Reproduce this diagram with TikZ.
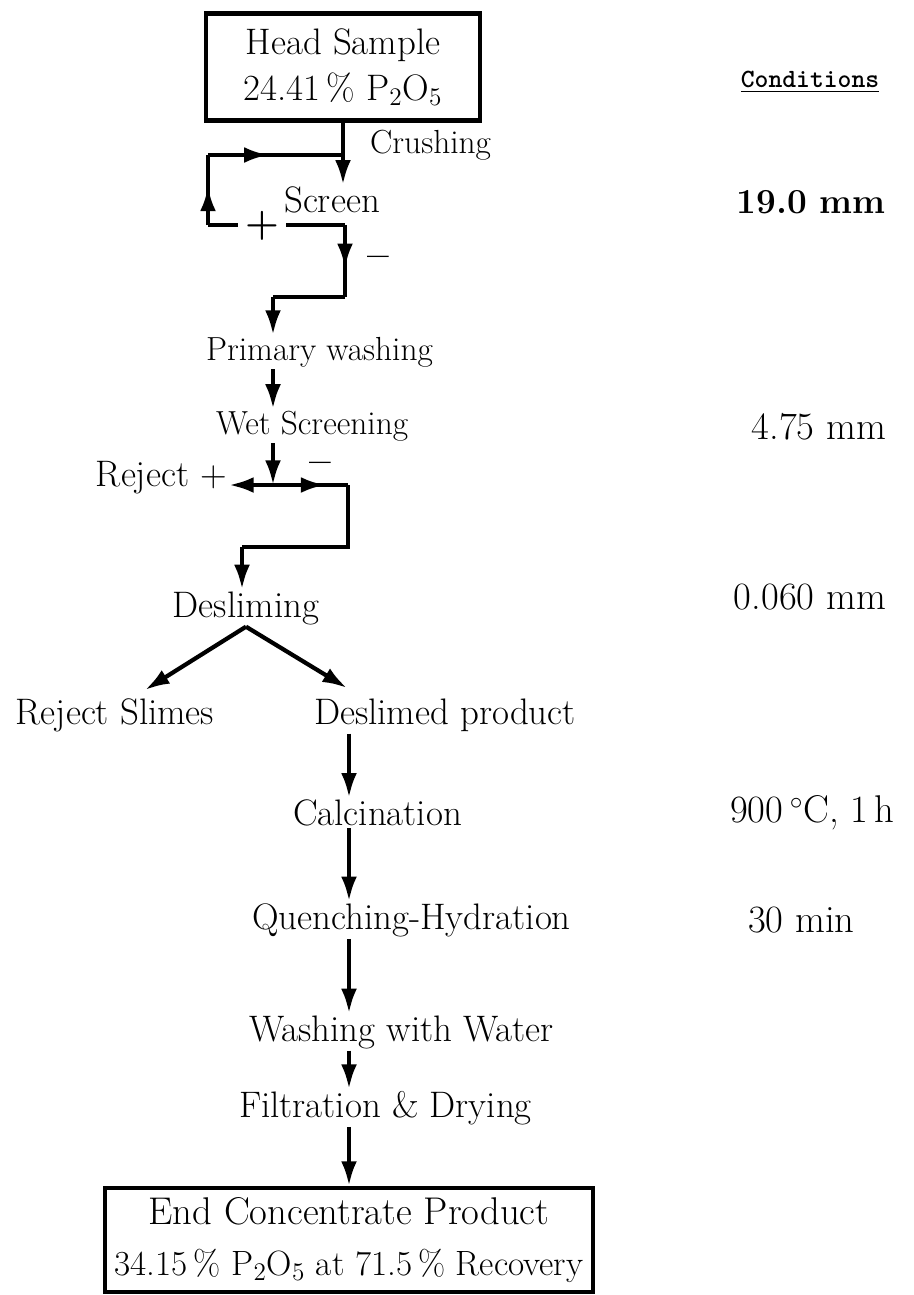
\documentclass[tikz,border=0pt]{standalone}
\usepackage{fontspec}
\usepackage{amsmath}
\usepackage{tikz}
\usetikzlibrary{arrows.meta, decorations.markings}

\newcommand{\handfont}{\fontsize{21}{25}\selectfont}
\newcommand{\smallhand}{\fontsize{19}{22}\selectfont}
\newcommand{\condfont}{\fontsize{22}{26}\selectfont}

\tikzset{
  flowline/.style={line width=2.4pt},
  flow/.style={flowline, -{Latex[length=14pt,width=9pt]}},
  midflow/.style={flowline, postaction={decorate},
    decoration={markings, mark=at position #1 with {\arrow{Latex[length=14pt,width=9pt]}}}},
  midflow/.default=0.6,
  stage/.style={font=\handfont, inner sep=1pt},
  boxed/.style={draw, line width=2.4pt, align=center, inner sep=0pt},
  cond/.style={font=\condfont, inner sep=1pt},
  sign/.style={font=\fontsize{22}{24}\selectfont\bfseries, inner sep=0pt}
}

\begin{document}
\begin{tikzpicture}[x=0.02cm, y=-0.02cm]
        \useasboundingbox (0,0) rectangle (913,1295);
        % Main column
        \coordinate (col) at (349,0);
        % Head sample
        \node [boxed, font=\fontsize{21}{26}\selectfont, minimum width=5.48cm, minimum height=2.14cm] (head) at (343,67) {Head Sample\\24.41\,\% P$_2$O$_5$};
        \node [stage, font=\smallhand, anchor=west] (crush) at (368,145) {Crushing};
        \node [stage] (screen) at (332,200) {Screen};
        \node [sign] (plus1) at (262,226) {+};
        \node [sign] (minus1) at (378,262) {--};
        \draw [flow] (head.south) -- (head.south |- screen.north);
        % Oversize back to crushing
        \coordinate (recyL) at (208,225);
        \coordinate (recyT) at (208,155);
        \coordinate (recyJ) at (343,155);
        \draw [flowline] ([xshift=-4pt]plus1.west |- recyL) -- (recyL);
        \draw [midflow=0.55] (recyL) -- (recyT);
        \draw [midflow=0.45] (recyT) -- (recyJ);
        % Undersize
        \coordinate (underR) at (345,225);
        \coordinate (underB) at (345,297);
        \coordinate (underL) at (273,297);
        \draw [flowline] ([xshift=4pt]plus1.east |- underR) -- (underR);
        \draw [midflow=0.6] (underR) -- (underB);
        \draw [flowline] (underB) -- (underL);
        \node [stage, font=\smallhand, anchor=west] (prim) at (204,352) {Primary washing};
        \draw [flow] (underL) -- (underL |- prim.north);
        % Wet screening
        \node [stage, font=\smallhand, anchor=west] (wet) at (214,426) {Wet Screening};
        \draw [flow] (prim.south -| underL) -- (wet.north -| underL);
        \coordinate (split) at (273,485);
        \draw [flow] (wet.south -| split) -- (split);
        \node [stage, anchor=east] (rej1) at (229,478) {Reject +};
        \node [sign] (minus2) at (320,468) {--};
        \draw [flow] (split) -- (split -| rej1.east);
        \coordinate (splitR) at (348,485);
        \coordinate (splitB) at (348,547);
        \coordinate (splitL) at (242,547);
        \draw [midflow=0.7] (split) -- (splitR);
        \draw [flowline] (splitR) -- (splitB) -- (splitL);
        % Desliming
        \node [stage] (desl) at (246,608) {Desliming};
        \draw [flow] (splitL) -- (splitL |- desl.north);
        \node [stage] (rejsl) at (115,715) {Reject Slimes};
        \node [stage, anchor=west] (dprod) at (312,715) {Deslimed product};
        \coordinate (slimeend) at (145,690);
        \coordinate (prodend) at (347,688);
        \draw [flow] (desl.south) -- (slimeend);
        \draw [flow] (desl.south) -- (prodend);
        % Treatment steps
        \node [stage, anchor=west] (calc) at (291,813) {Calcination};
        \node [stage, anchor=west] (quench) at (250,920) {Quenching-Hydration};
        \node [stage, anchor=west] (washw) at (247,1032) {Washing with Water};
        \node [stage, anchor=west] (filt) at (237,1108) {Filtration \& Drying};
        \node [boxed, font=\fontsize{20}{29}\selectfont, minimum width=9.76cm, minimum height=2.08cm] (endp) at (349,1240) {{\fontsize{22}{29}\selectfont End Concentrate Product}\\34.15\,\% P$_2$O$_5$ at 71.5\,\% Recovery};
        \draw [flow] (dprod.south -| col) -- (calc.north -| col);
        \draw [flow] (calc.south -| col) -- (quench.north -| col);
        \draw [flow] (quench.south -| col) -- (washw.north -| col);
        \draw [flow] (washw.south -| col) -- (filt.north -| col);
        \draw [flow] (filt.south -| col) -- (endp.north -| col);
        % Conditions
        \node [font=\ttfamily\bfseries\fontsize{15}{18}\selectfont] (condhead) at (810,82) {\underline{Conditions}};
        \node [cond, font=\fontsize{20}{24}\selectfont\bfseries, anchor=east] (c1) at (888,202) {19.0 mm};
        \node [cond, anchor=east] (c2) at (888,427) {4.75 mm};
        \node [cond, anchor=east] (c3) at (888,597) {0.060 mm};
        \node [cond, anchor=west] (c4) at (728,813) {900\,$^\circ$C, 1\,h};
        \node [cond, anchor=west] (c5) at (746,920) {30 min};
    \end{tikzpicture}
\end{document}
